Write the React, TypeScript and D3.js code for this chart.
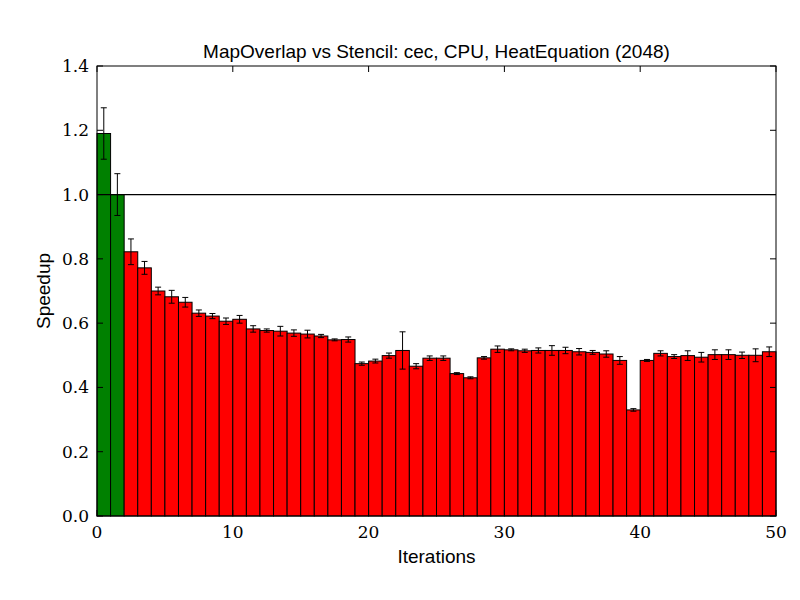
import * as d3 from "d3";

const iterations = d3.range(50);
const speedups = [
  1.19, 1.0, 0.822, 0.772, 0.7, 0.682, 0.665, 0.631, 0.622, 0.606,
  0.612, 0.582, 0.577, 0.575, 0.569, 0.566, 0.56, 0.548, 0.549, 0.474,
  0.482, 0.499, 0.515, 0.466, 0.491, 0.491, 0.443, 0.43, 0.492, 0.519,
  0.517, 0.514, 0.515, 0.515, 0.515, 0.511, 0.509, 0.504, 0.484, 0.33,
  0.484, 0.506, 0.496, 0.499, 0.494, 0.502, 0.502, 0.5, 0.5, 0.511,
];
const errors = [
  0.08, 0.065, 0.04, 0.02, 0.012, 0.02, 0.015, 0.01, 0.008, 0.01,
  0.012, 0.01, 0.005, 0.015, 0.01, 0.012, 0.005, 0.003, 0.008, 0.005,
  0.006, 0.008, 0.058, 0.008, 0.007, 0.007, 0.003, 0.003, 0.004, 0.01,
  0.003, 0.005, 0.008, 0.015, 0.01, 0.01, 0.006, 0.01, 0.012, 0.004,
  0.003, 0.008, 0.006, 0.015, 0.015, 0.015, 0.015, 0.01, 0.02, 0.015,
];
const yTicks = [0, 0.2, 0.4, 0.6, 0.8, 1.0, 1.2, 1.4];
const xTicks = [0, 10, 20, 30, 40, 50];

const W = 800, H = 600;
const left = 97, right = 776, top = 66, bottom = 516;

export default function App() {
  const x = d3.scaleLinear().domain([0, 50]).range([left, right]);
  const y = d3.scaleLinear().domain([0, 1.4]).range([bottom, top]);
  const serif = "'DejaVu Serif', serif";
  const sans = "'Liberation Sans', Arial, sans-serif";
  return (
    <svg width={W} height={H} style={{ position: "absolute", left: 0, top: 0, background: "#fff" }}>
      <rect width={W} height={H} fill="#fff" />
      {iterations.map((i) => (
        <rect
          key={i}
          x={x(i)}
          y={y(speedups[i])}
          width={x(i + 1) - x(i)}
          height={y(0) - y(speedups[i])}
          fill={speedups[i] >= 1 ? "#008000" : "#ff0000"}
          stroke="#000"
          strokeWidth={1}
        />
      ))}
      {iterations.map((i) => {
        const cx = x(i + 0.5);
        return (
          <g key={"e" + i} stroke="#000" strokeWidth={1}>
            <line x1={cx} x2={cx} y1={y(speedups[i] - errors[i])} y2={y(speedups[i] + errors[i])} />
            <line x1={cx - 3} x2={cx + 3} y1={y(speedups[i] - errors[i])} y2={y(speedups[i] - errors[i])} />
            <line x1={cx - 3} x2={cx + 3} y1={y(speedups[i] + errors[i])} y2={y(speedups[i] + errors[i])} />
          </g>
        );
      })}
      <line x1={left} x2={right} y1={y(1)} y2={y(1)} stroke="#000" strokeWidth={1.2} />
      <rect x={left} y={top} width={right - left} height={bottom - top} fill="none" stroke="#000" strokeWidth={1} />
      {yTicks.map((t) => (
        <g key={"y" + t}>
          <line x1={left} x2={left + 6} y1={y(t)} y2={y(t)} stroke="#000" />
          <line x1={right} x2={right - 6} y1={y(t)} y2={y(t)} stroke="#000" />
          <text x={left - 8} y={y(t) + 6} textAnchor="end" fontFamily={serif} fontSize={17}>
            {t.toFixed(1)}
          </text>
        </g>
      ))}
      {xTicks.map((t) => (
        <g key={"x" + t}>
          <line x1={x(t)} x2={x(t)} y1={bottom} y2={bottom - 6} stroke="#000" />
          <line x1={x(t)} x2={x(t)} y1={top} y2={top + 6} stroke="#000" />
          <text x={x(t)} y={bottom + 22} textAnchor="middle" fontFamily={serif} fontSize={17}>
            {t}
          </text>
        </g>
      ))}
      <text x={(left + right) / 2} y={58} textAnchor="middle" fontFamily={sans} fontSize={19}>
        MapOverlap vs Stencil: cec, CPU, HeatEquation (2048)
      </text>
      <text x={(left + right) / 2} y={563} textAnchor="middle" fontFamily={sans} fontSize={19}>
        Iterations
      </text>
      <text
        transform={`translate(50,${(top + bottom) / 2}) rotate(-90)`}
        textAnchor="middle"
        fontFamily={sans}
        fontSize={19}
      >
        Speedup
      </text>
    </svg>
  );
}
